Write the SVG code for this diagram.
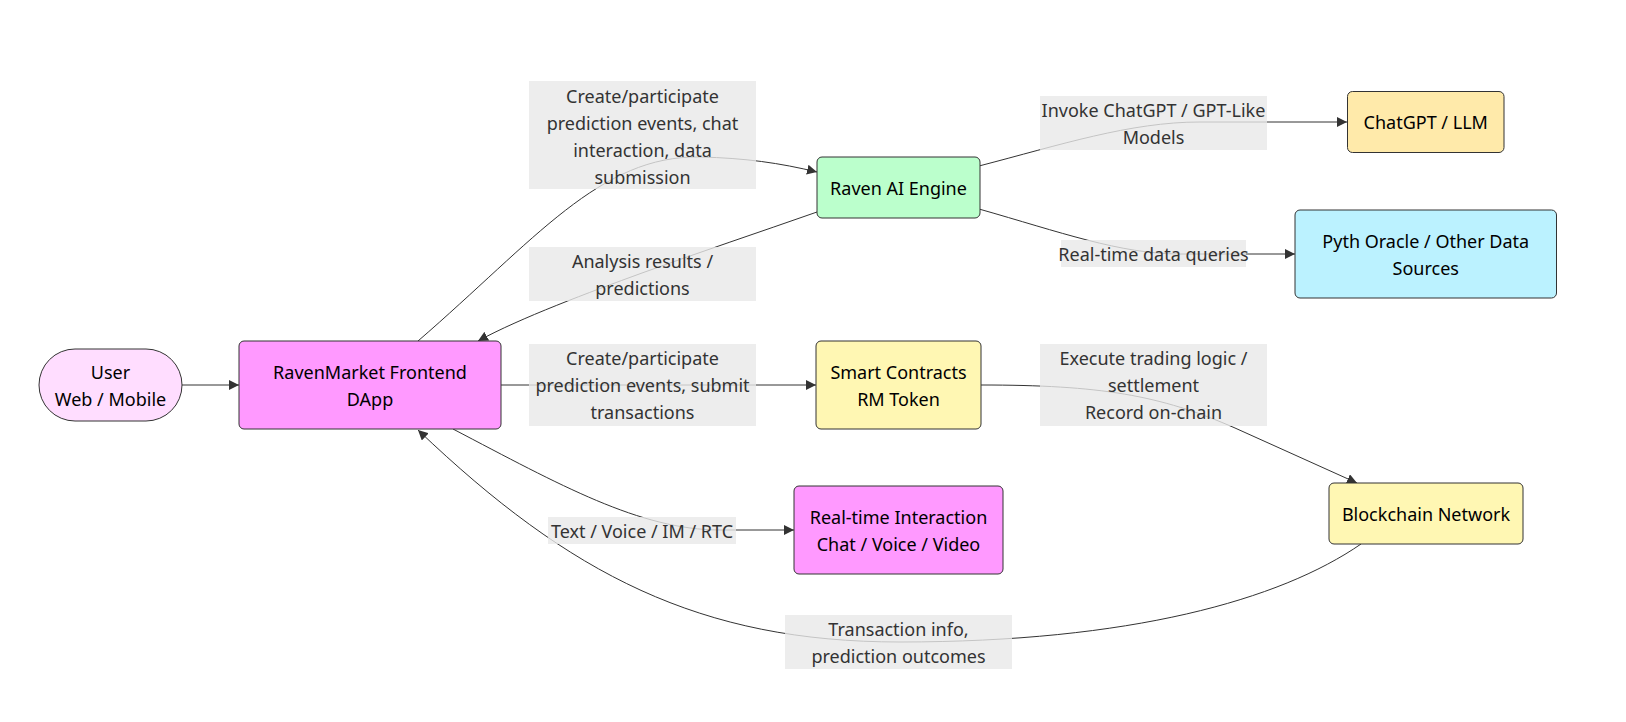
<svg xmlns="http://www.w3.org/2000/svg" width="1626" height="722" viewBox="0 0 1626 722">
<defs>
<style>
.node rect{stroke:#333;stroke-width:1}
.nt{font-family:"Noto Sans","Open Sans",sans-serif;font-size:18px;fill:#000;text-anchor:middle;dominant-baseline:central}
.lt{font-family:"Noto Sans","Open Sans",sans-serif;font-size:18px;fill:#333;text-anchor:middle;dominant-baseline:central}
.lbg{fill:#e8e8e8;fill-opacity:0.8}
.edge{fill:none;stroke:#333;stroke-width:1}
</style>
<marker id="arrow" viewBox="0 0 10 10" refX="10" refY="5" markerWidth="10" markerHeight="10" markerUnits="userSpaceOnUse" orient="auto">
<path d="M0,0 L10,5 L0,10 z" fill="#333"/>
</marker>
</defs>
<rect width="1626" height="722" fill="#fff"/>
<g id="connectors">
<path class="edge" marker-end="url(#arrow)" d="M182,385 L239,385"/>
<path class="edge" marker-end="url(#arrow)" d="M418,341 C535,240 600,155 700,157 C745,158 780,163 817,172"/>
<path class="edge" marker-end="url(#arrow)" d="M817,212 C760,232 700,252 642,273 C590,292 520,318 478,341"/>
<path class="edge" marker-end="url(#arrow)" d="M501,385 L816,385"/>
<path class="edge" marker-end="url(#arrow)" d="M453,429 C560,485 640,530 720,530 L794,530"/>
<path class="edge" marker-end="url(#arrow)" d="M979,166 C1060,145 1130,122 1200,122 L1347,122"/>
<path class="edge" marker-end="url(#arrow)" d="M979,209 C1060,232 1120,254 1180,254 L1295,254"/>
<path class="edge" marker-end="url(#arrow)" d="M981,385 C1100,385 1160,395 1235,428 L1357,483"/>
<path class="edge" marker-end="url(#arrow)" d="M1361,544 C1280,600 1130,642 900,642 C700,642 570,575 418,430"/>
</g>
<g id="edge-labels">
<g id="label-frontend-ai">
<rect class="lbg" x="529" y="81" width="227" height="108"/>
<text class="lt" x="642.5" y="95.5">Create/participate</text>
<text class="lt" x="642.5" y="122.5">prediction events, chat</text>
<text class="lt" x="642.5" y="149.5">interaction, data</text>
<text class="lt" x="642.5" y="176.5">submission</text>
</g>
<g id="label-ai-frontend">
<rect class="lbg" x="529" y="247" width="227" height="54"/>
<text class="lt" x="642.5" y="261">Analysis results /</text>
<text class="lt" x="642.5" y="288">predictions</text>
</g>
<g id="label-frontend-contracts">
<rect class="lbg" x="529" y="344" width="227" height="82"/>
<text class="lt" x="642.5" y="358">Create/participate</text>
<text class="lt" x="642.5" y="385">prediction events, submit</text>
<text class="lt" x="642.5" y="412">transactions</text>
</g>
<g id="label-ai-llm">
<rect class="lbg" x="1040" y="96" width="227" height="54"/>
<text class="lt" x="1153.5" y="110">Invoke ChatGPT / GPT-Like</text>
<text class="lt" x="1153.5" y="137">Models</text>
</g>
<g id="label-ai-oracle">
<rect class="lbg" x="1061" y="240" width="185" height="27"/>
<text class="lt" x="1153.5" y="254">Real-time data queries</text>
</g>
<g id="label-contracts-chain">
<rect class="lbg" x="1040" y="344" width="227" height="82"/>
<text class="lt" x="1153.5" y="358">Execute trading logic /</text>
<text class="lt" x="1153.5" y="385">settlement</text>
<text class="lt" x="1153.5" y="412">Record on-chain</text>
</g>
<g id="label-frontend-rtc">
<rect class="lbg" x="548" y="517" width="188" height="27"/>
<text class="lt" x="642" y="531">Text / Voice / IM / RTC</text>
</g>
<g id="label-chain-frontend">
<rect class="lbg" x="785" y="615" width="227" height="54"/>
<text class="lt" x="898.5" y="629">Transaction info,</text>
<text class="lt" x="898.5" y="656">prediction outcomes</text>
</g>
</g>
<g id="node-user" class="node">
<rect x="39" y="349" width="143" height="72" rx="36" ry="36" fill="#ffddff"/>
<text class="nt" x="110.5" y="371.5">User</text>
<text class="nt" x="110.5" y="398.5">Web / Mobile</text>
</g>
<g id="node-frontend" class="node">
<rect x="239" y="341" width="262" height="88" rx="5" ry="5" fill="#ff99ff"/>
<text class="nt" x="370" y="371.5">RavenMarket Frontend</text>
<text class="nt" x="370" y="398.5">DApp</text>
</g>
<g id="node-ai" class="node">
<rect x="817" y="157" width="163" height="61" rx="5" ry="5" fill="#bbffcc"/>
<text class="nt" x="898.5" y="187.5">Raven AI Engine</text>
</g>
<g id="node-llm" class="node">
<rect x="1347.5" y="91.5" width="156.5" height="61" rx="5" ry="5" fill="#ffeaaa"/>
<text class="nt" x="1425.75" y="122">ChatGPT / LLM</text>
</g>
<g id="node-oracle" class="node">
<rect x="1295" y="210" width="261.5" height="88" rx="5" ry="5" fill="#bbf2ff"/>
<text class="nt" x="1425.75" y="240.5">Pyth Oracle / Other Data</text>
<text class="nt" x="1425.75" y="267.5">Sources</text>
</g>
<g id="node-contracts" class="node">
<rect x="816" y="341" width="165" height="88" rx="5" ry="5" fill="#fff7b3"/>
<text class="nt" x="898.5" y="371.5">Smart Contracts</text>
<text class="nt" x="898.5" y="398.5">RM Token</text>
</g>
<g id="node-rtc" class="node">
<rect x="794" y="486" width="209" height="88" rx="5" ry="5" fill="#ff99ff"/>
<text class="nt" x="898.5" y="516.5">Real-time Interaction</text>
<text class="nt" x="898.5" y="543.5">Chat / Voice / Video</text>
</g>
<g id="node-chain" class="node">
<rect x="1329" y="483" width="194" height="61" rx="5" ry="5" fill="#fff7b3"/>
<text class="nt" x="1426" y="513.5">Blockchain Network</text>
</g>
</svg>
